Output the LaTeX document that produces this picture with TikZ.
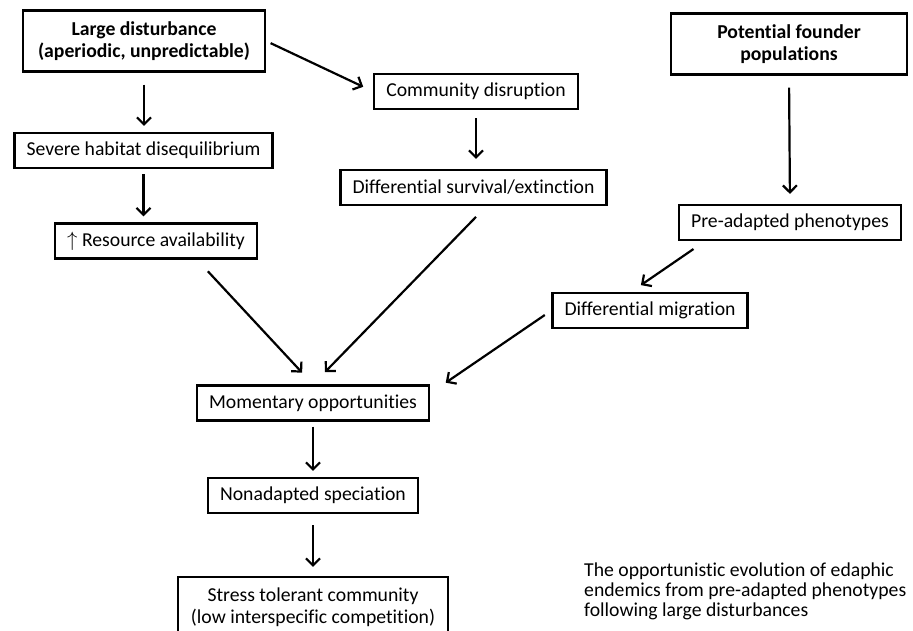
\documentclass[tikz,border=0pt]{standalone}
\usepackage{fontspec}
\setmainfont{Carlito}[Ligatures=NoCommon]
\usetikzlibrary{arrows.meta}

\begin{document}
\begin{tikzpicture}[x=1pt, y=1pt,
    box/.style={draw, line width=2.2pt, inner xsep=12pt, inner ysep=2pt, minimum height=35pt, align=center,
        font=\fontsize{19.7}{21.5}\selectfont},
    headbox/.style={box, minimum height=61pt, font=\fontsize{19.7}{21.5}\selectfont\bfseries},
    flow/.style={line width=2.2pt, -{Straight Barb[length=7pt,width=14pt]}, shorten <=8pt, shorten >=6pt}]

    \useasboundingbox (0,0) rectangle (913,-631);

    \node[headbox, minimum width=242pt] (ld) at (144,-41) {Large disturbance\\(aperiodic, unpredictable)};
    \node[box] (shd) at (143.5,-150.5) {Severe habitat disequilibrium};
    \node[box] (res) at (156,-241) {$\uparrow$ Resource availability};

    \node[box] (cd) at (476,-91.5) {Community disruption};
    \node[box] (ds) at (473.5,-187.5) {Differential survival/extinction};

    \node[headbox, minimum width=236pt] (pf) at (789,-44) {Potential founder\\populations};
    \node[box] (pa) at (790,-222.5) {Pre-adapted phenotypes};
    \node[box] (dm) at (650,-310.5) {Differential migration};

    \node[box] (mo) at (313,-403) {Momentary opportunities};
    \node[box] (ns) at (313,-495.5) {Nonadapted speciation};
    \node[box, minimum width=270pt, minimum height=60pt] (st) at (313,-607) {Stress tolerant community\\(low interspecific competition)};

    \node[anchor=north west, inner sep=0pt, align=left, font=\fontsize{19.7}{20}\selectfont] (cap) at (584,-563)
        {The opportunistic evolution of edaphic\\endemics from pre-adapted phenotypes\\following large disturbances};

    \draw[flow, shorten <=12pt] (ld.south) -- (ld.south |- shd.north);
    \draw[flow, shorten <=5pt] (shd.south) -- (shd.south |- res.north);
    \draw[flow, shorten <=5pt, shorten >=11pt] (ld.east) -- (cd.west);
    \draw[flow, shorten >=10pt] (cd.south) -- (cd.south |- ds.north);
    \draw[flow, shorten <=12pt, shorten >=10pt] (pf.south) -- (pa.north);
    \draw[flow, shorten <=14pt, shorten >=12pt] ([xshift=27pt]pa.south west) -- ([xshift=-19pt]dm.north);

    \draw[flow, shorten <=16pt, shorten >=16pt] ([xshift=41pt]res.south) -- (mo.north);
    \draw[flow, shorten <=15pt, shorten >=17pt] ([xshift=13pt]ds.south) -- (mo.north);
    \draw[flow, shorten <=8pt, shorten >=19pt] (dm.west) -- ([yshift=-9pt]mo.north east);

    \draw[flow, shorten <=5pt] (mo.south) -- (ns.north);
    \draw[flow, shorten <=11pt, shorten >=9pt] (ns.south) -- (st.north);

\end{tikzpicture}
\end{document}
